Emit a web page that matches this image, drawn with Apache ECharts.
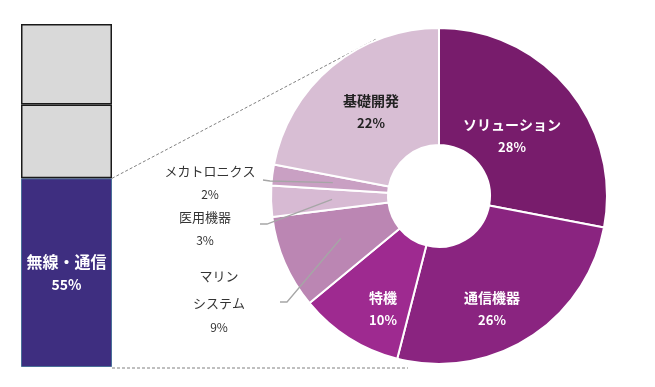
<!DOCTYPE html>
<html><head><meta charset="utf-8">
<script src="https://cdn.jsdelivr.net/npm/echarts@6/dist/echarts.min.js"></script>
<style>html,body{margin:0;padding:0;background:#fff}#c{width:655px;height:387px}</style>
</head><body><div id="c"></div>
<script>
// ---- data ----
const segments = ['ソリューション', '通信機器', '特機', 'マリン\nシステム', '医用機器', 'メカトロニクス', '基礎開発'];
const segmentShares = [28, 26, 10, 9, 3, 2, 22];
const barParts = ['無線・通信', 'その他A', 'その他B'];
const barShares = [55, 21.5, 23.5];

// ---- styles / layout ----
const W = 655, H = 387;
const FONT = '"Noto Sans CJK JP", "Noto Sans", sans-serif';
const pieColors = ['#781c6c', '#8a2480', '#9e2a90', '#bb86b3', '#d7bad3', '#c9a0c3', '#d8bed4'];
const pieLabelColors = ['#fff', '#fff', '#fff', '#333', '#333', '#333', '#222'];
const outsideIdx = [3, 4, 5];
const pieCenter = [439, 196];
const pieR = [51, 168];
// label block centres (px) for each slice
const labelPos = [[512, 136], [492, 309], [383, 309], [219, 300], [205, 227], [210, 181], [371, 112]];
// label-line outer ends [end, elbow]
const lineEnds = {3: [[280, 302], [287, 302]], 4: [[260, 224], [267, 224]], 5: [[263, 180], [270, 181]]};
const grid = {left: 21, right: W - 112, top: 24, bottom: H - 367};
const barColors = ['#3e2e80', '#d9d9d9', '#d9d9d9'];

const total = segmentShares.reduce((a, b) => a + b, 0);
function midAngle(i) {
  let s = 0; for (let k = 0; k < i; k++) s += segmentShares[k];
  return (s + segmentShares[i] / 2) / total * 2 * Math.PI;
}
function polar(theta, r) {
  return [pieCenter[0] + r * Math.sin(theta), pieCenter[1] - r * Math.cos(theta)];
}
const isOut = i => outsideIdx.indexOf(i) >= 0;

const richIn = c => ({
  n: {fontSize: 14, fontFamily: FONT, color: c, fontWeight: 'bold', lineHeight: 22},
  p: {fontSize: 13, fontFamily: FONT, color: c, fontWeight: 'bold', lineHeight: 22}
});
const richOut = {
  n: {fontSize: 13, fontFamily: FONT, color: '#333', lineHeight: 27, fontWeight: 'normal'},
  p: {fontSize: 12, fontFamily: FONT, color: '#333', lineHeight: 20, fontWeight: 'normal'}
};

// base pie: sectors + inside labels
const pieData = segments.map((name, i) => ({
  name: name, value: segmentShares[i],
  itemStyle: {color: pieColors[i]},
  label: isOut(i) ? {show: false} : {show: true, position: 'inside', rich: richIn(pieLabelColors[i])},
  labelLine: {show: false}
}));
// overlay pie: transparent sectors, outside labels with leader lines drawn on top
const pieDataOver = segments.map((name, i) => ({
  name: name, value: segmentShares[i],
  itemStyle: {color: 'rgba(0,0,0,0)', borderWidth: 0},
  label: isOut(i) ? {show: true, position: 'outside', rich: richOut} : {show: false},
  labelLine: {show: isOut(i), lineStyle: {color: '#a6a6a6', width: 1.3}, smooth: false}
}));

const fmt = p => p.name.split('\n').map(s => '{n|' + s + '}').join('\n') + '\n{p|' + p.value + '%}';
function layoutFn(params) {
  const i = params.dataIndex;
  if (i == null || i < 0) return {};
  const pos = labelPos[i];
  const res = {x: pos[0], y: pos[1], align: 'center', verticalAlign: 'middle'};
  if (lineEnds[i]) {
    const start = polar(midAngle(i), 107);
    res.labelLinePoints = [start, lineEnds[i][1], lineEnds[i][0]];
  }
  return res;
}

const chart = echarts.init(document.getElementById('c'), null, {renderer: 'canvas'});

const barSeries = barParts.map((name, i) => ({
  type: 'bar', name: name, stack: 'total', barWidth: '100%',
  data: [barShares[i]],
  itemStyle: i === 0 ? {color: barColors[i], borderColor: '#4a7099', borderWidth: 1}
                     : {color: barColors[i], borderColor: '#1a1a1a', borderWidth: 1.5},
  label: i === 0 ? {
    show: true, position: 'inside',
    formatter: () => '{n|' + name + '}\n{p|' + barShares[i] + '%}',
    rich: {n: {fontSize: 16, fontWeight: 'bold', color: '#fff', fontFamily: FONT, lineHeight: 24},
           p: {fontSize: 14, fontWeight: 'bold', color: '#fff', fontFamily: FONT, lineHeight: 22}}
  } : {show: false},
  silent: true, animation: false
}));

const pieCommon = {
  type: 'pie', center: pieCenter, radius: pieR, startAngle: 90, clockwise: true,
  avoidLabelOverlap: false, animation: false, silent: true,
  label: {formatter: fmt}, labelLayout: layoutFn
};

chart.setOption({
  animation: false,
  grid: grid,
  xAxis: {type: 'category', data: [''], show: false},
  yAxis: {type: 'value', min: 0, max: 100, show: false},
  series: barSeries.concat([
    Object.assign({}, pieCommon, {z: 2, itemStyle: {borderColor: '#fff', borderWidth: 2}, data: pieData}),
    Object.assign({}, pieCommon, {z: 5, data: pieDataOver})
  ])
});

// dashed connectors from bar segment to the pie
const barTop = chart.convertToPixel({gridIndex: 0}, [0, barShares[0]]);
const barBot = chart.convertToPixel({gridIndex: 0}, [0, 0]);
const barRightX = grid.left + (W - grid.left - grid.right);
const topEnd = polar(-22 / 180 * Math.PI, pieR[1] + 1);
const botEnd = [pieCenter[0] - 31, barBot[1]];
chart.setOption({
  graphic: [
    {type: 'line', silent: true, z: 1, shape: {x1: barRightX, y1: barTop[1], x2: topEnd[0], y2: topEnd[1]},
     style: {stroke: '#808080', lineWidth: 1, lineDash: [3, 2]}},
    {type: 'line', silent: true, z: 1, shape: {x1: barRightX, y1: barBot[1] + 1, x2: botEnd[0], y2: botEnd[1] + 1},
     style: {stroke: '#808080', lineWidth: 1, lineDash: [3, 2]}}
  ]
});
</script></body></html>
